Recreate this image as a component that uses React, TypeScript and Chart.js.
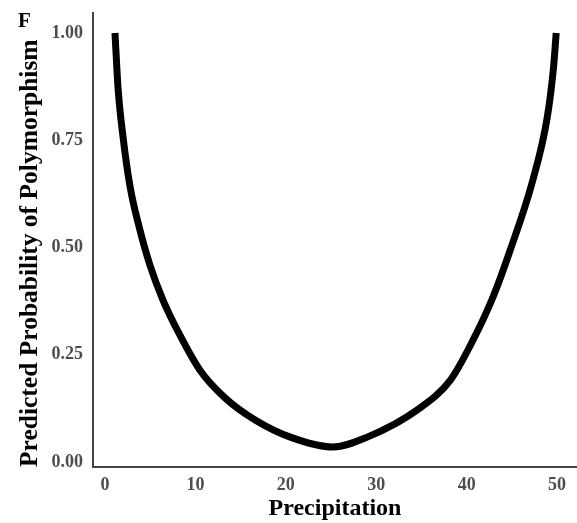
import React, { useEffect, useRef } from "react";
import { Chart, registerables } from "chart.js";

Chart.register(...registerables);

const precipitation = [1.1, 1.44, 2.0, 2.77, 3.76, 4.98, 6.42, 8.3, 10.5, 13.3, 16.6, 20.5, 25.2, 29, 34.5, 38.2, 40.7, 42.9, 44.8, 47.3, 48.9, 49.6, 49.9];
const probability = [1.0, 0.872, 0.756, 0.642, 0.549, 0.458, 0.377, 0.295, 0.214, 0.149, 0.098, 0.058, 0.035, 0.058, 0.121, 0.191, 0.284, 0.384, 0.493, 0.656, 0.802, 0.919, 1.0];
const xTicks = [0, 10, 20, 30, 40, 50];
const yTicks = [0, 0.25, 0.5, 0.75, 1.0];
const panelLabel = "F";
const xTitle = "Precipitation";
const yTitle = "Predicted Probability of Polymorphism";

const SERIF = "'Liberation Serif', 'Times New Roman', serif";

const panelLabelPlugin = {
  id: "panelLabel",
  afterDraw(chart: any) {
    const ctx = chart.ctx;
    ctx.save();
    ctx.font = `bold 21px ${SERIF}`;
    ctx.fillStyle = "#000";
    ctx.textAlign = "left";
    ctx.textBaseline = "alphabetic";
    ctx.fillText(panelLabel, 18, 27);
    ctx.restore();
  },
};

export default function App() {
  const ref = useRef<HTMLCanvasElement>(null);
  useEffect(() => {
    if (!ref.current) return;
    const chart = new Chart(ref.current, {
      type: "line",
      data: {
        datasets: [
          {
            data: precipitation.map((x, i) => ({ x, y: probability[i] })),
            borderColor: "#000",
            borderWidth: 7,
            borderCapStyle: "butt",
            pointRadius: 0,
            cubicInterpolationMode: "monotone",
            fill: false,
          },
        ],
      },
      options: {
        animation: false,
        responsive: false,
        layout: { padding: { top: 12, left: 0, right: 0, bottom: 0 } },
        plugins: { legend: { display: false }, tooltip: { enabled: false } },
        scales: {
          x: {
            type: "linear",
            min: -1.33,
            max: 52.2,
            afterBuildTicks: (s: any) => {
              s.ticks = xTicks.map((v) => ({ value: v }));
            },
            afterFit: (s: any) => {
              s.height = 56;
            },
            grid: { display: false },
            border: { display: true, color: "#444", width: 2 },
            ticks: {
              padding: 0,
              color: "#4d4d4d",
              font: { family: SERIF, size: 18, weight: "bold" },
              maxRotation: 0,
            },
            title: {
              display: true,
              text: xTitle,
              color: "#000",
              font: { family: SERIF, size: 24, weight: "bold" },
              padding: { top: 0, bottom: 0 },
            },
          },
          y: {
            type: "linear",
            min: -0.0116,
            max: 1.047,
            afterBuildTicks: (s: any) => {
              s.ticks = yTicks.map((v) => ({ value: v }));
            },
            afterFit: (s: any) => {
              s.width = 93;
            },
            grid: { display: false },
            border: { display: true, color: "#444", width: 2 },
            ticks: {
              padding: 2,
              color: "#4d4d4d",
              font: { family: SERIF, size: 18, weight: "bold" },
              callback: (v: any) => Number(v).toFixed(2),
            },
            title: {
              display: true,
              text: yTitle,
              align: "start",
              color: "#000",
              font: { family: SERIF, size: 25.5, weight: "bold" },
              padding: { top: 15, bottom: 0 },
            },
          },
        },
      },
      plugins: [panelLabelPlugin],
    } as any);
    return () => chart.destroy();
  }, []);
  return (
    <div style={{ position: "fixed", left: 0, top: 0, width: 577, height: 523, background: "#fff" }}>
      <canvas ref={ref} width={577} height={523} style={{ display: "block" }} />
    </div>
  );
}
